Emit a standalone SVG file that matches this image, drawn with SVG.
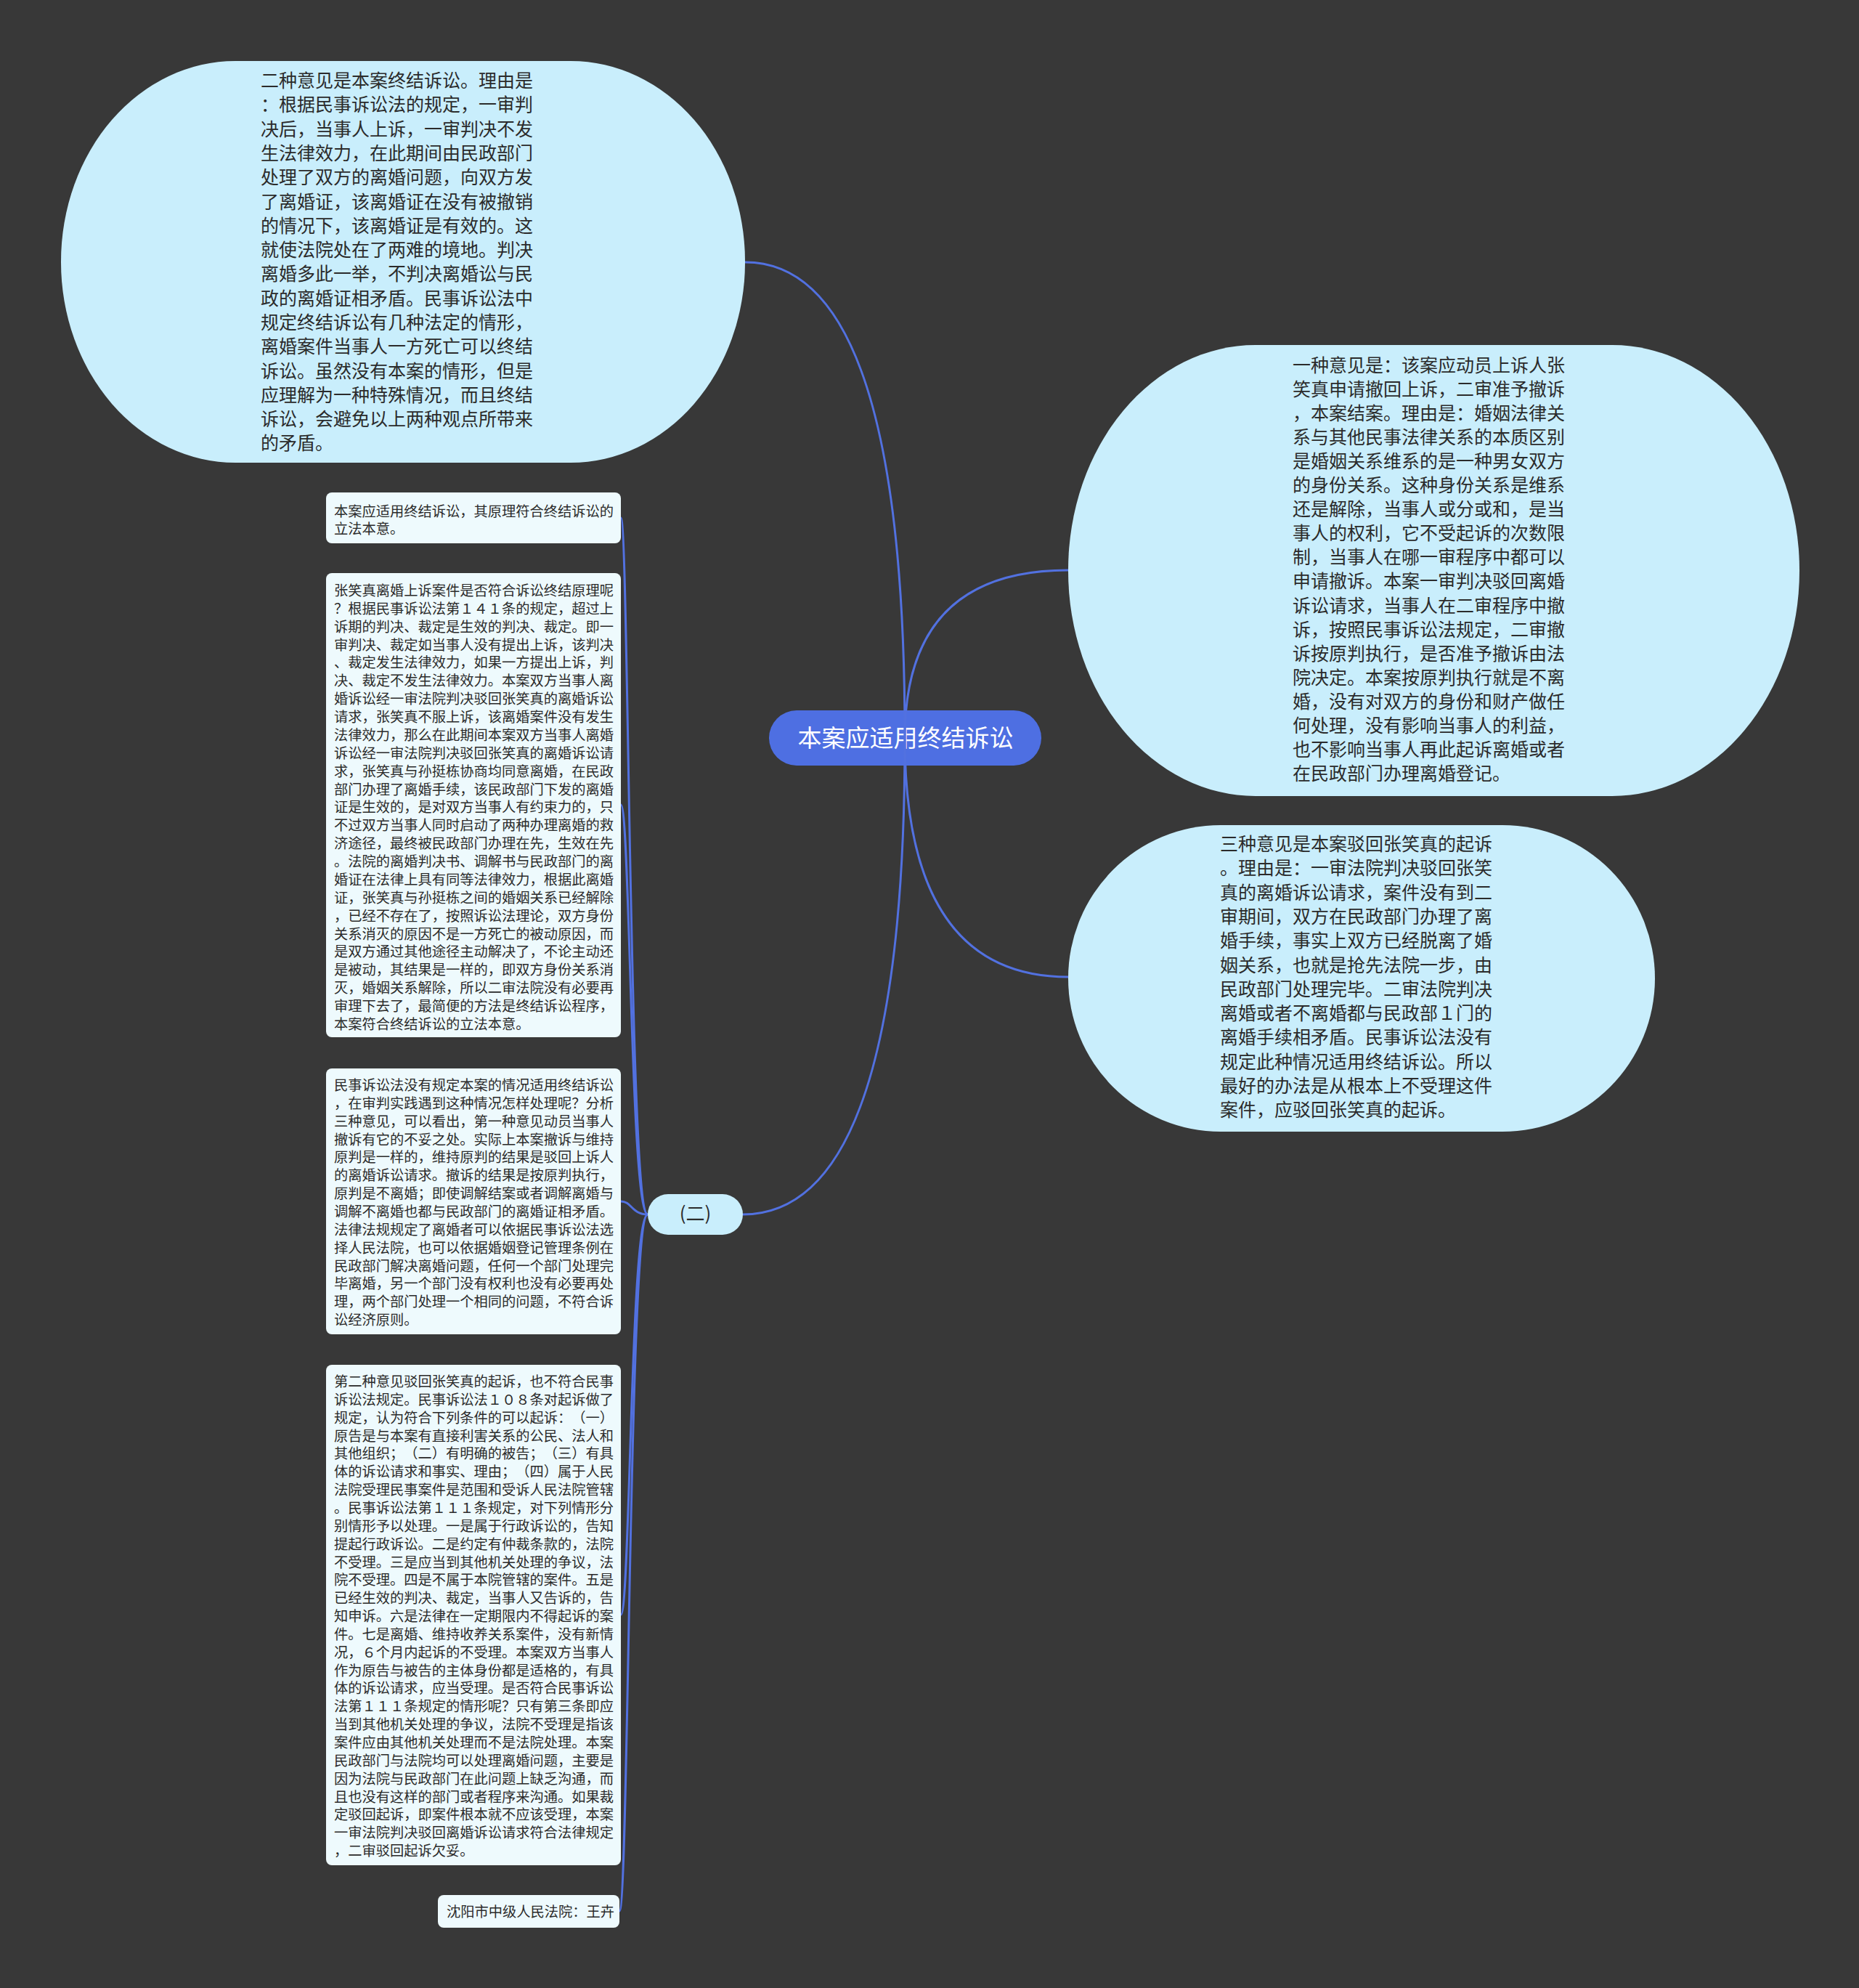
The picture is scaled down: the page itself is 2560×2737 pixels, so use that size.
<svg xmlns="http://www.w3.org/2000/svg" width="2560" height="2737" viewBox="0 0 2560 2737">
<style>
.ell{fill:#c9eefc}
.box{fill:#eefafd}
.conn{fill:none;stroke:#5271e0;stroke-width:3}
.t{font-family:"Noto Sans CJK SC","Noto Sans",sans-serif;fill:#2b2b2b;text-spacing-trim:space-all;font-kerning:none}
.big{font-size:25px}
.sm{font-size:19.25px}
</style>
<rect width="2560" height="2737" fill="#383838"/>
<g id="root">
<rect x="1059" y="978" width="375" height="76" rx="38" fill="#4e6fe2"/>
<text class="t" x="1247" y="1028" font-size="33" style="fill:#ffffff" text-anchor="middle">本案应适用终结诉讼</text>
</g>
<g id="connectors">
<path class="conn" d="M1246 1016 Q1246 361 1026 361"/>
<path class="conn" d="M1246 1016 Q1246 785 1471 785"/>
<path class="conn" d="M1246 1016 Q1246 1345 1471 1345"/>
<path class="conn" d="M1246 1016 Q1246 1672 1023 1672"/>
<path class="conn" d="M892 1672 C866 1672 866 713 855 713"/>
<path class="conn" d="M892 1672 C868 1672 868 1108 855 1108"/>
<path class="conn" d="M892 1672 C870 1672 870 1654 855 1654"/>
<path class="conn" d="M892 1672 C868 1672 868 2223 855 2223"/>
<path class="conn" d="M892 1672 C866 1672 866 2631 853 2631"/>
</g>
<g id="opinion2">
<rect class="ell" x="84" y="84" width="942" height="553" rx="240" ry="276"/>
<text class="t big" x="359" y="120">
<tspan x="359" y="120">二种意见是本案终结诉讼。理由是</tspan>
<tspan x="359" dy="33.3">：根据民事诉讼法的规定，一审判</tspan>
<tspan x="359" dy="33.3">决后，当事人上诉，一审判决不发</tspan>
<tspan x="359" dy="33.3">生法律效力，在此期间由民政部门</tspan>
<tspan x="359" dy="33.3">处理了双方的离婚问题，向双方发</tspan>
<tspan x="359" dy="33.3">了离婚证，该离婚证在没有被撤销</tspan>
<tspan x="359" dy="33.3">的情况下，该离婚证是有效的。这</tspan>
<tspan x="359" dy="33.3">就使法院处在了两难的境地。判决</tspan>
<tspan x="359" dy="33.3">离婚多此一举，不判决离婚讼与民</tspan>
<tspan x="359" dy="33.3">政的离婚证相矛盾。民事诉讼法中</tspan>
<tspan x="359" dy="33.3">规定终结诉讼有几种法定的情形，</tspan>
<tspan x="359" dy="33.3">离婚案件当事人一方死亡可以终结</tspan>
<tspan x="359" dy="33.3">诉讼。虽然没有本案的情形，但是</tspan>
<tspan x="359" dy="33.3">应理解为一种特殊情况，而且终结</tspan>
<tspan x="359" dy="33.3">诉讼，会避免以上两种观点所带来</tspan>
<tspan x="359" dy="33.3">的矛盾。</tspan>
</text>
</g>
<g id="opinion1">
<rect class="ell" x="1471" y="475" width="1007" height="621" rx="258" ry="310"/>
<text class="t big" x="1780" y="512">
<tspan x="1780" y="512">一种意见是：该案应动员上诉人张</tspan>
<tspan x="1780" dy="33.05">笑真申请撤回上诉，二审准予撤诉</tspan>
<tspan x="1780" dy="33.05">，本案结案。理由是：婚姻法律关</tspan>
<tspan x="1780" dy="33.05">系与其他民事法律关系的本质区别</tspan>
<tspan x="1780" dy="33.05">是婚姻关系维系的是一种男女双方</tspan>
<tspan x="1780" dy="33.05">的身份关系。这种身份关系是维系</tspan>
<tspan x="1780" dy="33.05">还是解除，当事人或分或和，是当</tspan>
<tspan x="1780" dy="33.05">事人的权利，它不受起诉的次数限</tspan>
<tspan x="1780" dy="33.05">制，当事人在哪一审程序中都可以</tspan>
<tspan x="1780" dy="33.05">申请撤诉。本案一审判决驳回离婚</tspan>
<tspan x="1780" dy="33.05">诉讼请求，当事人在二审程序中撤</tspan>
<tspan x="1780" dy="33.05">诉，按照民事诉讼法规定，二审撤</tspan>
<tspan x="1780" dy="33.05">诉按原判执行，是否准予撤诉由法</tspan>
<tspan x="1780" dy="33.05">院决定。本案按原判执行就是不离</tspan>
<tspan x="1780" dy="33.05">婚，没有对双方的身份和财产做任</tspan>
<tspan x="1780" dy="33.05">何处理，没有影响当事人的利益，</tspan>
<tspan x="1780" dy="33.05">也不影响当事人再此起诉离婚或者</tspan>
<tspan x="1780" dy="33.05">在民政部门办理离婚登记。</tspan>
</text>
</g>
<g id="opinion3">
<rect class="ell" x="1471" y="1136" width="808" height="422" rx="210" ry="211"/>
<text class="t big" x="1680" y="1171">
<tspan x="1680" y="1171">三种意见是本案驳回张笑真的起诉</tspan>
<tspan x="1680" dy="33.3">。理由是：一审法院判决驳回张笑</tspan>
<tspan x="1680" dy="33.3">真的离婚诉讼请求，案件没有到二</tspan>
<tspan x="1680" dy="33.3">审期间，双方在民政部门办理了离</tspan>
<tspan x="1680" dy="33.3">婚手续，事实上双方已经脱离了婚</tspan>
<tspan x="1680" dy="33.3">姻关系，也就是抢先法院一步，由</tspan>
<tspan x="1680" dy="33.3">民政部门处理完毕。二审法院判决</tspan>
<tspan x="1680" dy="33.3">离婚或者不离婚都与民政部１门的</tspan>
<tspan x="1680" dy="33.3">离婚手续相矛盾。民事诉讼法没有</tspan>
<tspan x="1680" dy="33.3">规定此种情况适用终结诉讼。所以</tspan>
<tspan x="1680" dy="33.3">最好的办法是从根本上不受理这件</tspan>
<tspan x="1680" dy="33.3">案件，应驳回张笑真的起诉。</tspan>
</text>
</g>
<g id="part2">
<rect class="ell" x="892" y="1644" width="131" height="56" rx="28"/>
<text class="t" x="957.5" y="1680" font-size="26" text-anchor="middle">(二)</text>
</g>
<g id="box1">
<rect class="box" x="449" y="678" width="406" height="70" rx="8"/>
<text class="t sm" x="460" y="710.5">
<tspan x="460" y="710.5">本案应适用终结诉讼，其原理符合终结诉讼的</tspan>
<tspan x="460" dy="24.9">立法本意。</tspan>
</text>
</g>
<g id="box2">
<rect class="box" x="449" y="789" width="406" height="639" rx="8"/>
<text class="t sm" x="460" y="820">
<tspan x="460" y="820">张笑真离婚上诉案件是否符合诉讼终结原理呢</tspan>
<tspan x="460" dy="24.87">？根据民事诉讼法第１４１条的规定，超过上</tspan>
<tspan x="460" dy="24.87">诉期的判决、裁定是生效的判决、裁定。即一</tspan>
<tspan x="460" dy="24.87">审判决、裁定如当事人没有提出上诉，该判决</tspan>
<tspan x="460" dy="24.87">、裁定发生法律效力，如果一方提出上诉，判</tspan>
<tspan x="460" dy="24.87">决、裁定不发生法律效力。本案双方当事人离</tspan>
<tspan x="460" dy="24.87">婚诉讼经一审法院判决驳回张笑真的离婚诉讼</tspan>
<tspan x="460" dy="24.87">请求，张笑真不服上诉，该离婚案件没有发生</tspan>
<tspan x="460" dy="24.87">法律效力，那么在此期间本案双方当事人离婚</tspan>
<tspan x="460" dy="24.87">诉讼经一审法院判决驳回张笑真的离婚诉讼请</tspan>
<tspan x="460" dy="24.87">求，张笑真与孙挺栋协商均同意离婚，在民政</tspan>
<tspan x="460" dy="24.87">部门办理了离婚手续，该民政部门下发的离婚</tspan>
<tspan x="460" dy="24.87">证是生效的，是对双方当事人有约束力的，只</tspan>
<tspan x="460" dy="24.87">不过双方当事人同时启动了两种办理离婚的救</tspan>
<tspan x="460" dy="24.87">济途径，最终被民政部门办理在先，生效在先</tspan>
<tspan x="460" dy="24.87">。法院的离婚判决书、调解书与民政部门的离</tspan>
<tspan x="460" dy="24.87">婚证在法律上具有同等法律效力，根据此离婚</tspan>
<tspan x="460" dy="24.87">证，张笑真与孙挺栋之间的婚姻关系已经解除</tspan>
<tspan x="460" dy="24.87">，已经不存在了，按照诉讼法理论，双方身份</tspan>
<tspan x="460" dy="24.87">关系消灭的原因不是一方死亡的被动原因，而</tspan>
<tspan x="460" dy="24.87">是双方通过其他途径主动解决了，不论主动还</tspan>
<tspan x="460" dy="24.87">是被动，其结果是一样的，即双方身份关系消</tspan>
<tspan x="460" dy="24.87">灭，婚姻关系解除，所以二审法院没有必要再</tspan>
<tspan x="460" dy="24.87">审理下去了，最简便的方法是终结诉讼程序，</tspan>
<tspan x="460" dy="24.87">本案符合终结诉讼的立法本意。</tspan>
</text>
</g>
<g id="box3">
<rect class="box" x="449" y="1471" width="406" height="366" rx="8"/>
<text class="t sm" x="460" y="1501">
<tspan x="460" y="1501">民事诉讼法没有规定本案的情况适用终结诉讼</tspan>
<tspan x="460" dy="24.85">，在审判实践遇到这种情况怎样处理呢？分析</tspan>
<tspan x="460" dy="24.85">三种意见，可以看出，第一种意见动员当事人</tspan>
<tspan x="460" dy="24.85">撤诉有它的不妥之处。实际上本案撤诉与维持</tspan>
<tspan x="460" dy="24.85">原判是一样的，维持原判的结果是驳回上诉人</tspan>
<tspan x="460" dy="24.85">的离婚诉讼请求。撤诉的结果是按原判执行，</tspan>
<tspan x="460" dy="24.85">原判是不离婚；即使调解结案或者调解离婚与</tspan>
<tspan x="460" dy="24.85">调解不离婚也都与民政部门的离婚证相矛盾。</tspan>
<tspan x="460" dy="24.85">法律法规规定了离婚者可以依据民事诉讼法选</tspan>
<tspan x="460" dy="24.85">择人民法院，也可以依据婚姻登记管理条例在</tspan>
<tspan x="460" dy="24.85">民政部门解决离婚问题，任何一个部门处理完</tspan>
<tspan x="460" dy="24.85">毕离婚，另一个部门没有权利也没有必要再处</tspan>
<tspan x="460" dy="24.85">理，两个部门处理一个相同的问题，不符合诉</tspan>
<tspan x="460" dy="24.85">讼经济原则。</tspan>
</text>
</g>
<g id="box4">
<rect class="box" x="449" y="1879" width="406" height="689" rx="8"/>
<text class="t sm" x="460" y="1909">
<tspan x="460" y="1909">第二种意见驳回张笑真的起诉，也不符合民事</tspan>
<tspan x="460" dy="24.85">诉讼法规定。民事诉讼法１０８条对起诉做了</tspan>
<tspan x="460" dy="24.85">规定，认为符合下列条件的可以起诉：（一）</tspan>
<tspan x="460" dy="24.85">原告是与本案有直接利害关系的公民、法人和</tspan>
<tspan x="460" dy="24.85">其他组织；（二）有明确的被告；（三）有具</tspan>
<tspan x="460" dy="24.85">体的诉讼请求和事实、理由；（四）属于人民</tspan>
<tspan x="460" dy="24.85">法院受理民事案件是范围和受诉人民法院管辖</tspan>
<tspan x="460" dy="24.85">。民事诉讼法第１１１条规定，对下列情形分</tspan>
<tspan x="460" dy="24.85">别情形予以处理。一是属于行政诉讼的，告知</tspan>
<tspan x="460" dy="24.85">提起行政诉讼。二是约定有仲裁条款的，法院</tspan>
<tspan x="460" dy="24.85">不受理。三是应当到其他机关处理的争议，法</tspan>
<tspan x="460" dy="24.85">院不受理。四是不属于本院管辖的案件。五是</tspan>
<tspan x="460" dy="24.85">已经生效的判决、裁定，当事人又告诉的，告</tspan>
<tspan x="460" dy="24.85">知申诉。六是法律在一定期限内不得起诉的案</tspan>
<tspan x="460" dy="24.85">件。七是离婚、维持收养关系案件，没有新情</tspan>
<tspan x="460" dy="24.85">况，６个月内起诉的不受理。本案双方当事人</tspan>
<tspan x="460" dy="24.85">作为原告与被告的主体身份都是适格的，有具</tspan>
<tspan x="460" dy="24.85">体的诉讼请求，应当受理。是否符合民事诉讼</tspan>
<tspan x="460" dy="24.85">法第１１１条规定的情形呢？只有第三条即应</tspan>
<tspan x="460" dy="24.85">当到其他机关处理的争议，法院不受理是指该</tspan>
<tspan x="460" dy="24.85">案件应由其他机关处理而不是法院处理。本案</tspan>
<tspan x="460" dy="24.85">民政部门与法院均可以处理离婚问题，主要是</tspan>
<tspan x="460" dy="24.85">因为法院与民政部门在此问题上缺乏沟通，而</tspan>
<tspan x="460" dy="24.85">且也没有这样的部门或者程序来沟通。如果裁</tspan>
<tspan x="460" dy="24.85">定驳回起诉，即案件根本就不应该受理，本案</tspan>
<tspan x="460" dy="24.85">一审法院判决驳回离婚诉讼请求符合法律规定</tspan>
<tspan x="460" dy="24.85">，二审驳回起诉欠妥。</tspan>
</text>
</g>
<g id="box5">
<rect class="box" x="603" y="2609" width="250" height="45" rx="8"/>
<text class="t sm" x="615" y="2639">沈阳市中级人民法院：王卉</text>
</g>
</svg>
